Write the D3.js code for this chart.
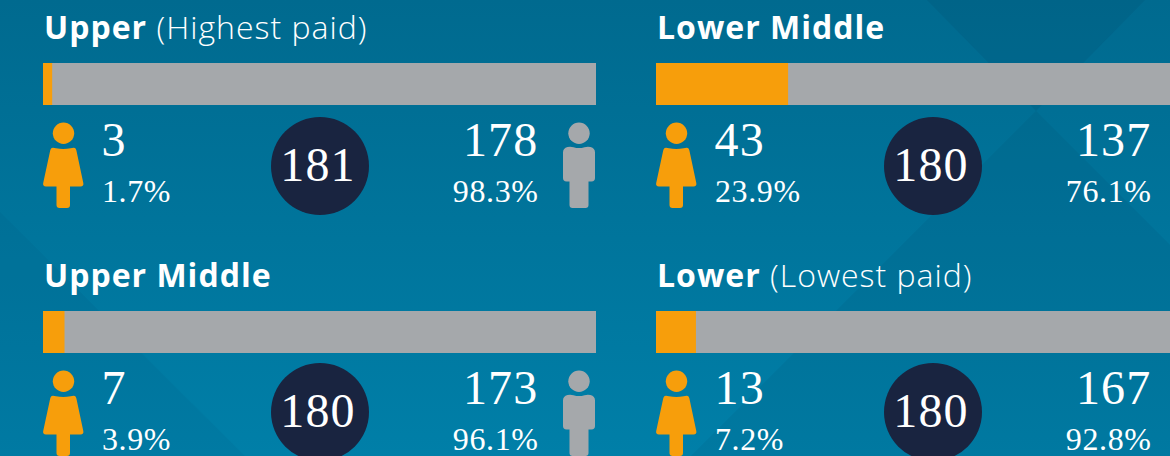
<!DOCTYPE html>
<html>
<head>
<meta charset="utf-8">
<script src="https://cdn.jsdelivr.net/npm/d3@7"></script>
<style>
  html, body { margin: 0; padding: 0; overflow: hidden; }
  svg { display: block; }
  .title { font-family: "Open Sans", sans-serif; font-size: 32px; letter-spacing: 1px; fill: #fff; }
  .num { font-family: "Liberation Serif", serif; fill: #fff; }
  .big { font-size: 48px; letter-spacing: 1.2px; }
  .pct { font-size: 32px; letter-spacing: 0.6px; }
</style>
</head>
<body>
<svg id="chart" width="1170" height="456"></svg>
<script>
const bands = ['Upper', 'Lower Middle', 'Upper Middle', 'Lower'];
const notes = ['(Highest paid)', '', '', '(Lowest paid)'];
const women = [3, 43, 7, 13];
const men = [178, 137, 173, 167];
const totals = [181, 180, 180, 180];
const womenPct = ['1.7%', '23.9%', '3.9%', '7.2%'];
const menPct = ['98.3%', '76.1%', '96.1%', '92.8%'];

const width = 1170, height = 456;
const orange = '#f79e0b', grey = '#a5a8ab', navy = '#192440';

const svg = d3.select('#chart');

// background
const grad = svg.append('defs').append('linearGradient')
  .attr('id', 'bg').attr('x1', 0).attr('y1', 0).attr('x2', 0).attr('y2', 1);
grad.append('stop').attr('offset', 0).attr('stop-color', '#006a8f');
grad.append('stop').attr('offset', 1).attr('stop-color', '#007fa8');
svg.append('rect').attr('width', width).attr('height', height).attr('fill', 'url(#bg)');

// faint facets behind the panels
const facets = [
  {d: 'M927,0 L1036,111 L1145,0 Z', o: 0.10},
  {d: 'M0,212 L245,456 L0,456 Z', o: 0.05},
  {d: 'M1036,111 L691,456 L1170,456 L1170,245 Z', o: 0.07}
];
svg.selectAll('path.facet').data(facets).join('path')
  .attr('class', 'facet')
  .attr('d', d => d.d)
  .attr('fill', '#00304a')
  .attr('opacity', d => d.o);

const barWidth = 553;
const col = d3.scaleOrdinal().domain([0, 1]).range([43, 656]);
const row = d3.scaleOrdinal().domain([0, 1]).range([0, 248]);

const femalePath = 'M8.7,15 Q10,14.6 13,15.2 Q20.3,16.8 27.6,15.2 Q30.6,14.6 32,15 Q33,15.5 33.4,17.5 L40.3,50 Q41,53.4 37.5,53.6 L27,53.6 L27,72 Q27,75 24,75 L16.5,75 Q13.5,75 13.5,72 L13.5,53.6 L3,53.6 Q-0.5,53.4 0.2,50 L7.2,17.5 Q7.6,15.5 8.7,15 Z';
const malePath = 'M5,14 Q8,13.4 11,14.2 Q16.5,16 22,14.2 Q25,13.4 28,14 Q32.5,15 32.5,19.5 L32.5,45 Q32.5,48.4 29,48.4 L26,48.4 L26,72 Q26,75 23,75 L10,75 Q7,75 7,72 L7,48.4 L4,48.4 Q0.5,48.4 0.5,45 L0.5,19.5 Q0.5,15 5,14 Z';

const panels = svg.selectAll('g.panel').data(bands).join('g')
  .attr('class', 'panel')
  .attr('transform', (d, i) => `translate(${col(i % 2)},${row(i < 2 ? 0 : 1)})`);

panels.each(function(band, i) {
  const g = d3.select(this);
  const x = d3.scaleLinear().domain([0, totals[i]]).range([0, barWidth]);

  // heading
  const title = g.append('text').attr('class', 'title').attr('x', 1).attr('y', 39);
  title.append('tspan').attr('font-weight', 700).text(band);
  if (notes[i]) title.append('tspan').attr('font-weight', 300).text(' ' + notes[i]);

  // stacked bar
  g.append('rect').attr('x', x(0)).attr('y', 63).attr('width', x(women[i] + men[i])).attr('height', 42).attr('fill', grey);
  g.append('rect').attr('x', x(0)).attr('y', 63).attr('width', x(women[i])).attr('height', 42).attr('fill', orange);

  // women
  g.append('circle').attr('cx', 20.5).attr('cy', 133.3).attr('r', 10.7).attr('fill', orange);
  g.append('path').attr('d', femalePath).attr('transform', 'translate(0,133)').attr('fill', orange);
  g.append('text').attr('class', 'num big').attr('x', 58.5).attr('y', 156).text(women[i]);
  g.append('text').attr('class', 'num pct').attr('x', 59).attr('y', 202).text(womenPct[i]);

  // total
  const cy = i < 2 ? 166 : 164;
  g.append('circle').attr('cx', 277).attr('cy', cy).attr('r', 49).attr('fill', navy);
  g.append('text').attr('class', 'num big').attr('x', 275).attr('y', cy + 14.5)
    .attr('text-anchor', 'middle').text(totals[i]);

  // men
  g.append('text').attr('class', 'num big').attr('x', 495.5).attr('y', 156)
    .attr('text-anchor', 'end').text(men[i]);
  g.append('text').attr('class', 'num pct').attr('x', 495.5).attr('y', 202)
    .attr('text-anchor', 'end').text(menPct[i]);
  g.append('circle').attr('cx', 536).attr('cy', 133.3).attr('r', 10.7).attr('fill', grey);
  g.append('path').attr('d', malePath).attr('transform', 'translate(519.5,133)').attr('fill', grey);
});
</script>
</body>
</html>
